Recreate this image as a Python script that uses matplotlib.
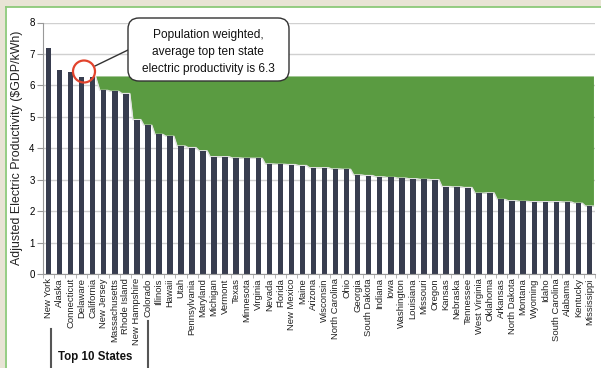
import numpy as np
import matplotlib
matplotlib.use("Agg")
import matplotlib.pyplot as plt
from matplotlib.patches import FancyBboxPatch, Circle, Rectangle
from matplotlib.lines import Line2D
from matplotlib.transforms import IdentityTransform

plt.rcParams["font.family"] = ["Liberation Sans", "DejaVu Sans"]

# data
states = ["New York", "Alaska", "Connecticut", "Delaware", "California",
          "New Jersey", "Massachusetts", "Rhode Island", "New Hampshire",
          "Colorado", "Illinois", "Hawaii", "Utah", "Pennsylvania",
          "Maryland", "Michigan", "Vermont", "Texas", "Minnesota",
          "Virginia", "Nevada", "Florida", "New Mexico", "Maine", "Arizona",
          "Wisconsin", "North Carolina", "Ohio", "Georgia", "South Dakota",
          "Indiana", "Iowa", "Washington", "Louisiana", "Missouri", "Oregon",
          "Kansas", "Nebraska", "Tennessee", "West Virginia", "Oklahoma",
          "Arkansas", "North Dakota", "Montana", "Wyoming", "Idaho",
          "South Carolina", "Alabama", "Kentucky", "Mississippi"]
productivity = [7.18, 6.50, 6.43, 6.27, 6.27,
                5.84, 5.81, 5.74, 4.91, 4.73,
                4.44, 4.38, 4.07, 4.02, 3.92,
                3.73, 3.73, 3.69, 3.68, 3.68,
                3.50, 3.49, 3.48, 3.45, 3.38,
                3.38, 3.34, 3.33, 3.15, 3.13,
                3.09, 3.07, 3.05, 3.03, 3.01,
                3.00, 2.78, 2.77, 2.75, 2.57,
                2.58, 2.37, 2.33, 2.31, 2.30,
                2.30, 2.30, 2.29, 2.25, 2.16]
top10_avg = 6.3
gap_start = 4  # California: the green gap area starts here
callout = ["Population weighted,", "average top ten state",
           "electric productivity is 6.3"]

W, H = 601, 368
fig = plt.figure(figsize=(W / 100, H / 100), dpi=100)
fig.patch.set_facecolor("white")

# page frame (beige strip + green border)
fig.patches.append(Rectangle((0, 1 - 6.5 / H), 1, 6.5 / H, transform=fig.transFigure,
                             facecolor="#e8e4d5", edgecolor="none", zorder=0))
fig.patches.append(Rectangle((0, 0), 5 / W, 1, transform=fig.transFigure,
                             facecolor="#e8e4d5", edgecolor="none", zorder=0))
fig.add_artist(Line2D([5.5 / W, 5.5 / W], [0, 1 - 6.5 / H], transform=fig.transFigure,
                      color="#8cc97a", lw=1.3))
fig.add_artist(Line2D([5.5 / W, 1], [1 - 7 / H, 1 - 7 / H], transform=fig.transFigure,
                      color="#8cc97a", lw=1.3))

ax = fig.add_axes([43 / W, 1 - 274 / H, (595 - 43) / W, (274 - 22.5) / H])
x = np.arange(len(states))
vals = np.array(productivity)
hw = 0.36

# green gap area, flat over each bar and stepping down in the gaps
xs, lows = [gap_start + 0.27], [vals[gap_start]]
for i in range(gap_start + 1, len(vals)):
    xs += [i - hw, i + hw]
    lows += [vals[i], vals[i]]
xs, lows = np.array(xs), np.array(lows)
ax.fill_between(xs, lows, top10_avg, color="#5a9b41", lw=0, zorder=1)
ax.plot(xs, lows, color="#e2e2e2", lw=1.0, zorder=1.5)

ax.bar(x, vals, width=0.5, color="#383d4f", zorder=2)

ax.set_xlim(-0.5, len(states) - 0.5)
ax.set_ylim(0, 8)
ax.set_yticks(range(0, 9))
ax.yaxis.grid(True, color="#d0d0d0", lw=1.0)
ax.set_axisbelow(True)
ax.tick_params(axis="y", labelsize=7, length=4, color="#999999", pad=2)
ax.set_xticks(x)
ax.set_xticklabels(states, rotation=90, fontsize=6.8, color="#222222")
ax.tick_params(axis="x", length=0, pad=3)
ax.set_xticks(np.arange(len(states) + 1) - 0.5, minor=True)
ax.tick_params(axis="x", which="minor", length=3, color="#aaaaaa")
for side in ["top", "right"]:
    ax.spines[side].set_visible(False)
for side in ["left", "bottom"]:
    ax.spines[side].set_color("#999999")

fig.text(17 / W, 1 - 148 / H, "Adjusted Electric Productivity ($GDP/kWh)",
         rotation=90, ha="center", va="center", fontsize=8.9, color="#222222")

# top-10 bracket
fig.add_artist(Line2D([51 / W, 51 / W], [0, 1 - 329 / H], transform=fig.transFigure,
                      color="#555555", lw=1.5))
fig.add_artist(Line2D([148 / W, 148 / W], [0, 1 - 321 / H], transform=fig.transFigure,
                      color="#555555", lw=1.5))
fig.text(95 / W, 1 - 357 / H, "Top 10 States", ha="center", va="center",
         fontsize=8.3, fontweight="bold", color="#111111")

# callout box with pointer and red circle (display pixels)
ident = IdentityTransform()
box = FancyBboxPatch((128, H - 81), 161, 63, boxstyle="round,pad=0,rounding_size=11",
                     transform=ident, facecolor="white", edgecolor="#333333", lw=1.0,
                     zorder=5)
fig.patches.append(box)
fig.add_artist(Line2D([128, 95], [H - 50, H - 66], transform=ident, color="#333333",
                      lw=1.0))
fig.patches.append(Circle((84, H - 71.5), 11, transform=ident, facecolor="none",
                          edgecolor="#e2432c", lw=1.6, zorder=6))
for k, line in enumerate(callout):
    fig.text(208, H - (35 + 17 * k), line, transform=ident, ha="center", va="center",
             fontsize=8.6, color="#111111", zorder=7)

fig.savefig("out.png", dpi=100)
